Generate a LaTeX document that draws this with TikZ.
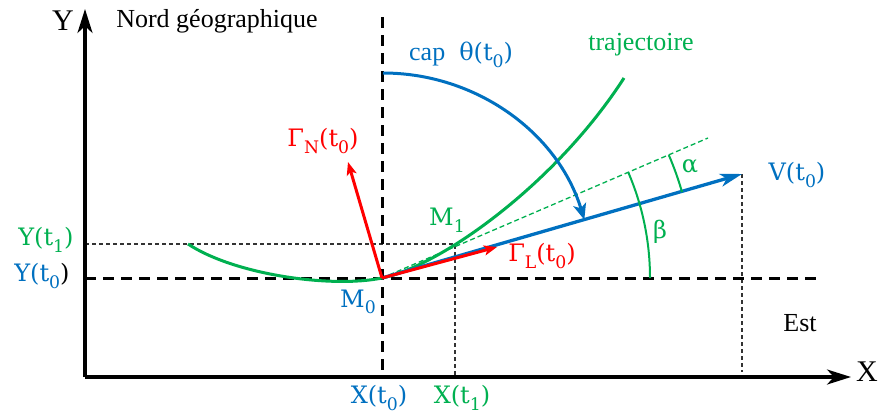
\documentclass[tikz,border=0pt]{standalone}
\usepackage{fontspec}
\setmainfont{Liberation Serif}
\newfontfamily\mathlike{DejaVu Serif}
\usetikzlibrary{arrows.meta}
\definecolor{cblue}{RGB}{0,112,192}
\definecolor{cgreen}{RGB}{0,176,80}
\definecolor{cred}{RGB}{255,0,0}
\newcommand\lowsub[1]{\raisebox{-0.28em}{\scalebox{0.72}{#1}}}
\tikzset{
  axisline/.style={line width=3.1pt, -{Stealth[length=24pt,width=15pt,inset=7pt]}},
  bigdash/.style={line width=3pt, dash pattern=on 10.5pt off 7.5pt},
  thindash/.style={line width=1.3pt, dash pattern=on 4pt off 3pt, black!80},
  lbl/.style={font=\fontsize{24}{28}\selectfont\mathlike, inner sep=0pt},
  txt/.style={font=\fontsize{26}{30}\selectfont, inner sep=0pt},
  axlbl/.style={font=\fontsize{30}{32}\selectfont, inner sep=0pt},
  traj/.style={cgreen, line width=3pt},
  redvec/.style={cred, line width=3pt, -{Stealth[length=13pt,width=10pt,inset=3pt]}},
  bluevec/.style={cblue, line width=3.3pt, -{Stealth[length=22pt,width=13pt,inset=6pt]}},
  anglearc/.style={cgreen, line width=2pt}
}
\begin{document}
\begin{tikzpicture}[x=1pt,y=-1pt]
\useasboundingbox (0,0) rectangle (880,416);
% coordinates
\coordinate (O) at (85,377);
\coordinate (Ytip) at (85,9);
\coordinate (Xtip) at (851,377);
\coordinate (M0) at (382,278);
\coordinate (M1) at (455,244);
\coordinate (Vt) at (742,174);
\coordinate (GLt) at (497,247);
\coordinate (GNt) at (348,162);
\coordinate (Tg) at (708,138);
\coordinate (Ntop) at (382,17);
\coordinate (Nbot) at (382,378);
\coordinate (Hl) at (85,278);
\coordinate (Hr) at (820,278);
\coordinate (Y1l) at (85,244);
\coordinate (X1b) at (455,377);
\coordinate (Vb) at (742,372);
\coordinate (Cs) at (383,73);
\coordinate (Bs) at (650,278);
\coordinate (As) at (682,192);
\coordinate (Ts) at (188,244);
\coordinate (Te) at (624,78);
% dashed guides
\draw[thindash] (Y1l) -- (M1) -- (X1b);
\draw[thindash] (Vt) -- (Vb);
\draw[bigdash] (Hl) -- (Hr);
\draw[bigdash] (Ntop) -- (Nbot);
% axes
\draw[axisline] (O) -- (Ytip);
\draw[axisline] (O) -- (Xtip);
% trajectory
\draw[traj] (Ts) .. controls (235,275) and (332,288.3) .. (M0)
  .. controls (440,266) and (555,185) .. (Te);
% tangent
\draw[cgreen, line width=1.3pt, dash pattern=on 5pt off 3pt] (M0) -- (Tg);
% vectors
\draw[bluevec] (M0) -- (Vt);
\draw[redvec] (M0) -- (GLt);
\draw[redvec] (M0) -- (GNt);
% cap arc
\draw[cblue, line width=3pt, -{Stealth[length=16pt,width=13pt,inset=4pt]}] (Cs) arc[start angle=-90, end angle=-16.5, x radius=210, y radius=205];
% angle arcs
\draw[anglearc] (Bs) arc[start angle=0, end angle=-23.2, radius=268];
\draw[anglearc] (As) arc[start angle=-16, end angle=-23.2, radius=312];
% labels
\node[axlbl] (lY) at (63,21) {Y};
\node[axlbl] (lX) at (867,372) {X};
\node[txt] (lN) at (217,21) {Nord géographique};
\node[txt] (lE) at (800,323) {Est};
\node[txt, cgreen] (lT) at (641,45) {trajectoire};
\node[txt, cblue, anchor=west] (lcap) at (409,55) {cap\hspace{14pt}{\mathlike\fontsize{24}{28}\selectfont θ(t\lowsub{0})}};
\node[lbl, cblue] (lV) at (797,175) {V(t\lowsub{0})};
\node[lbl, cred] (lGN) at (323,141) {Γ\lowsub{N}(t\lowsub{0})};
\node[lbl, cred] (lGL) at (542,256) {Γ\lowsub{L}(t\lowsub{0})};
\node[lbl, cgreen] (lM1) at (447,220) {M\lowsub{1}};
\node[lbl, cblue] (lM0) at (358,302) {M\lowsub{0}};
\node[lbl, cgreen] (lY1) at (46,240) {Y(t\lowsub{1})};
\node[lbl] (lY0) at (42,276) {{\color{cblue}Y(t\lowsub{0}}\color{black})};
\node[lbl, cblue] (lX0) at (379,398) {X(t\lowsub{0})};
\node[lbl, cgreen] (lX1) at (462,398) {X(t\lowsub{1})};
\node[lbl, cgreen] (la) at (690,166) {α};
\node[lbl, cgreen] (lb) at (660,232) {β};
\end{tikzpicture}
\end{document}
